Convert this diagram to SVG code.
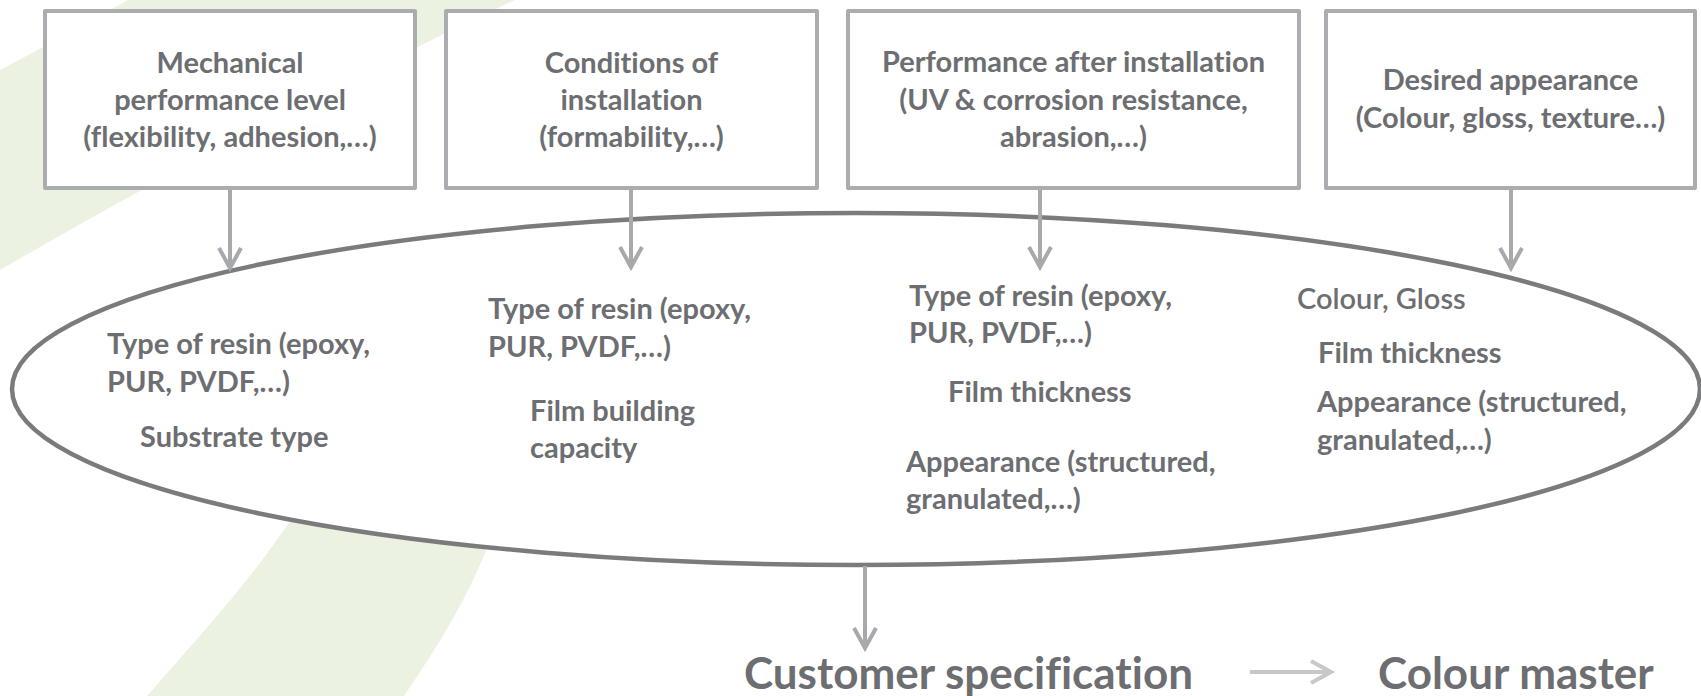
<svg xmlns="http://www.w3.org/2000/svg" width="1701" height="696" viewBox="0 0 1701 696">
<style>
.bg{fill:#ECF2E2}
.box{fill:#FFFFFF;stroke:#AAACAF;stroke-width:4;stroke-linejoin:round}
.ell{fill:#FFFFFF;stroke:#7A7B7D;stroke-width:4.5}
.t{font-family:Lato,"Liberation Sans",sans-serif;font-weight:bold;font-size:29px;fill:#6D6E71;font-variant-ligatures:none;font-feature-settings:"liga" 0,"clig" 0}
.tc{text-anchor:middle}
.tn{font-weight:600}
.big{font-family:Lato,"Liberation Sans",sans-serif;font-weight:bold;font-size:44px;fill:#6D6E71;font-variant-ligatures:none;font-feature-settings:"liga" 0,"clig" 0}
.conn{fill:none;stroke:#A7A9AC;stroke-width:4}
.conn2{fill:none;stroke:#C6C8CA;stroke-width:4}
</style>
<defs>
<marker id="ah" markerUnits="userSpaceOnUse" orient="auto" overflow="visible" markerWidth="1" markerHeight="1" refX="0" refY="0">
<path d="M-20,-11 L0,0 L-20,11" fill="none" stroke="#A7A9AC" stroke-width="4"/>
</marker>
<marker id="ah2" markerUnits="userSpaceOnUse" orient="auto" overflow="visible" markerWidth="1" markerHeight="1" refX="0" refY="0">
<path d="M-20,-11 L0,0 L-20,11" fill="none" stroke="#C6C8CA" stroke-width="4"/>
</marker>
</defs>
<rect width="1701" height="696" fill="#FFFFFF"/>
<g id="background">
<path class="bg" d="M128,0 L515,0 Q250,125 0,270 L0,70 Q65,36 128,0 Z"/>
<path class="bg" d="M310,490 C265,565 205,630 147,696 L404,696 C448,632 488,565 505,490 Z"/>
</g>
<g id="requirements-ellipse">
<ellipse class="ell" cx="856" cy="389" rx="844" ry="176"/>
<text class="t" x="107" y="354">Type of resin (epoxy,</text>
<text class="t" x="107" y="392">PUR, PVDF,…)</text>
<text class="t" x="140" y="447">Substrate type</text>
<text class="t" x="488" y="319">Type of resin (epoxy,</text>
<text class="t" x="488" y="357">PUR, PVDF,…)</text>
<text class="t" x="530" y="421">Film building</text>
<text class="t" x="530" y="458">capacity</text>
<text class="t" x="909" y="306">Type of resin (epoxy,</text>
<text class="t" x="909" y="343">PUR, PVDF,…)</text>
<text class="t" x="948" y="402">Film thickness</text>
<text class="t" x="906" y="472">Appearance (structured,</text>
<text class="t" x="906" y="509">granulated,…)</text>
<text class="t tn" x="1297" y="309">Colour, Gloss</text>
<text class="t" x="1318" y="363">Film thickness</text>
<text class="t" x="1317" y="412">Appearance (structured,</text>
<text class="t" x="1317" y="450">granulated,…)</text>
</g>
<g id="box-mechanical">
<rect class="box" x="45" y="11" width="370" height="177"/>
<text class="t tc" x="230" y="73">Mechanical</text>
<text class="t tc" x="230" y="110">performance level</text>
<text class="t tc" x="230" y="147">(flexibility, adhesion,…)</text>
</g>
<g id="box-installation">
<rect class="box" x="446" y="11" width="371" height="177"/>
<text class="t tc" x="631.5" y="73">Conditions of</text>
<text class="t tc" x="631.5" y="110">installation</text>
<text class="t tc" x="631.5" y="147">(formability,…)</text>
</g>
<g id="box-performance">
<rect class="box" x="848" y="11" width="451" height="177"/>
<text class="t tc" x="1073.5" y="72">Performance after installation</text>
<text class="t tc" x="1073.5" y="110">(UV &amp; corrosion resistance,</text>
<text class="t tc" x="1073.5" y="147">abrasion,…)</text>
</g>
<g id="box-appearance">
<rect class="box" x="1326" y="11" width="369" height="177"/>
<text class="t tc" x="1510.5" y="90">Desired appearance</text>
<text class="t tc" x="1510.5" y="128">(Colour, gloss, texture…)</text>
</g>
<g id="connectors">
<line class="conn" x1="230" y1="190" x2="230" y2="268" marker-end="url(#ah)"/>
<line class="conn" x1="631" y1="190" x2="631" y2="267" marker-end="url(#ah)"/>
<line class="conn" x1="1040" y1="190" x2="1040" y2="267" marker-end="url(#ah)"/>
<line class="conn" x1="1511" y1="190" x2="1511" y2="268" marker-end="url(#ah)"/>
<line class="conn" x1="865" y1="566" x2="865" y2="648" marker-end="url(#ah)"/>
<line class="conn2" x1="1250" y1="672" x2="1331" y2="672" marker-end="url(#ah2)"/>
</g>
<g id="customer-specification">
<text class="big" x="744" y="689">Customer specification</text>
</g>
<g id="colour-master">
<text class="big" x="1378" y="689">Colour master</text>
</g>
</svg>
